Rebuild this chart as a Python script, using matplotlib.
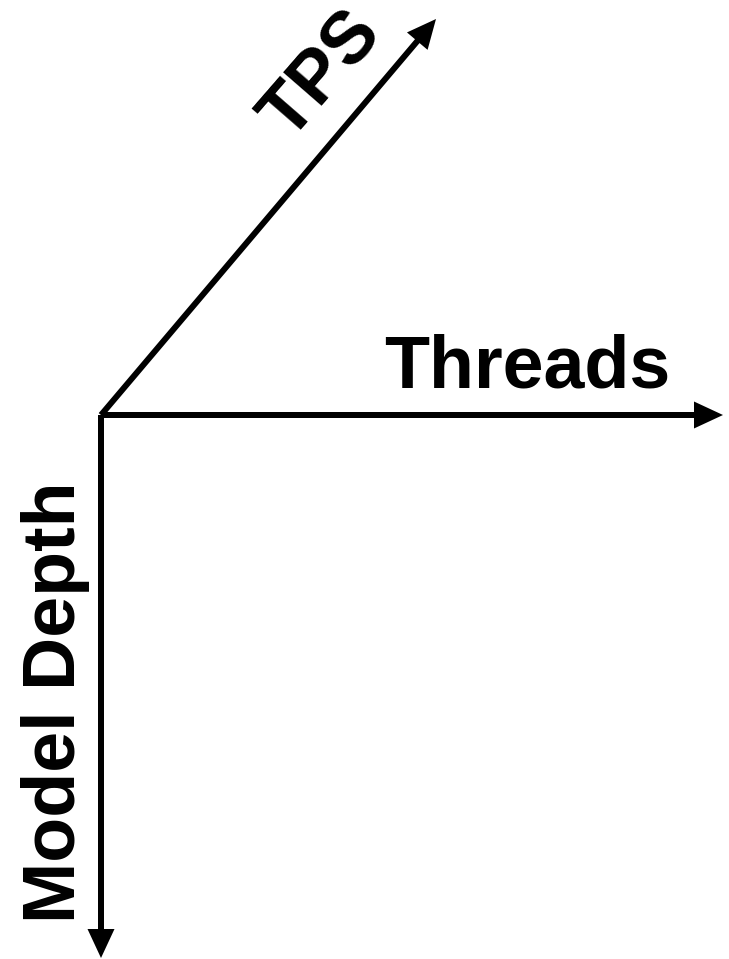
import matplotlib
matplotlib.use("Agg")
import matplotlib.pyplot as plt

# Diagram content
labels = ["Threads", "Model Depth", "TPS"]
origin = (101, 415)
ends = [(723, 415), (101, 958), (436, 19)]
label_pos = [(384, 388), (75, 702), (322, 76)]
label_rot = [0, 90, 49]
label_ha = ["left", "center", "center"]
label_va = ["baseline", "baseline", "center"]

W, H = 729, 959
fig = plt.figure(figsize=(W / 100, H / 100), dpi=100)
ax = fig.add_axes([0, 0, 1, 1])
ax.set_xlim(0, W)
ax.set_ylim(H, 0)
ax.axis("off")

for (ex, ey) in ends:
    ax.arrow(origin[0], origin[1], ex - origin[0], ey - origin[1],
             width=6, head_width=27, head_length=29,
             length_includes_head=True, color="black", lw=0)

for lab, (x, y), r, ha, va in zip(labels, label_pos, label_rot, label_ha, label_va):
    ax.text(x, y, lab, rotation=r, ha=ha, va=va,
            fontsize=53, fontweight="bold", family="Liberation Sans",
            rotation_mode="anchor")

fig.savefig("out.png", dpi=100)
